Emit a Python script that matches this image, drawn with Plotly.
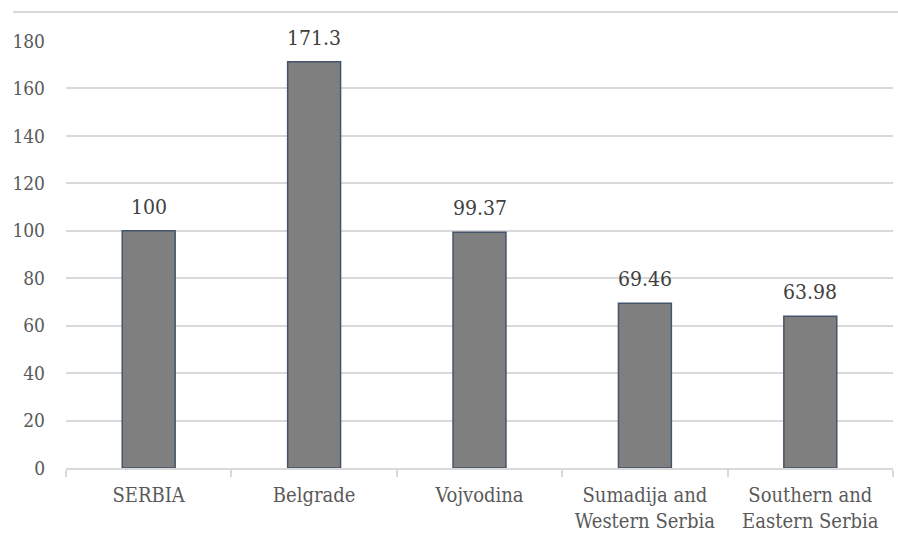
import plotly.graph_objects as go

categories = ["SERBIA", "Belgrade", "Vojvodina", "Sumadija and<br>Western Serbia", "Southern and<br>Eastern Serbia"]
values = [100, 171.3, 99.37, 69.46, 63.98]
value_labels = ["100", "171.3", "99.37", "69.46", "63.98"]
y_ticks = [0, 20, 40, 60, 80, 100, 120, 140, 160, 180]

FONT = "DejaVu Serif Condensed"

fig = go.Figure()
fig.add_trace(go.Bar(
    x=categories,
    y=values,
    marker=dict(color="#7f7f7f", line=dict(color="#44546a", width=1.5)),
    width=0.32,
))

for c, v, t in zip(categories, values, value_labels):
    fig.add_annotation(x=c, y=v, text=t, showarrow=False, yanchor="bottom",
                       yshift=10, font=dict(family=FONT, size=21, color="#404040"))

fig.add_shape(type="line", xref="paper", yref="paper",
              x0=-0.064, x1=1.01, y0=1.068, y1=1.068,
              line=dict(color="#d9d9d9", width=2), layer="below")

fig.update_layout(
    width=898, height=534,
    margin=dict(l=66, r=5, t=41, b=66),
    paper_bgcolor="white", plot_bgcolor="white",
    showlegend=False,
    font=dict(family=FONT, color="#595959"),
    xaxis=dict(
        showline=True, linecolor="#d9d9d9", linewidth=1.5,
        ticks="outside", tickson="boundaries", ticklen=7, tickcolor="#d9d9d9", tickwidth=1.5,
        tickfont=dict(family=FONT, size=20, color="#595959"),
        showgrid=False, ticklabelstandoff=8, automargin=False,
    ),
    yaxis=dict(
        range=[0, 180], tickvals=y_ticks,
        showgrid=True, gridcolor="#d9d9d9", gridwidth=1.5,
        zeroline=False, showline=False,
        tickfont=dict(family=FONT, size=19, color="#595959"),
        ticklabelstandoff=20, automargin=False,
    ),
)

fig.write_html("out.html")
